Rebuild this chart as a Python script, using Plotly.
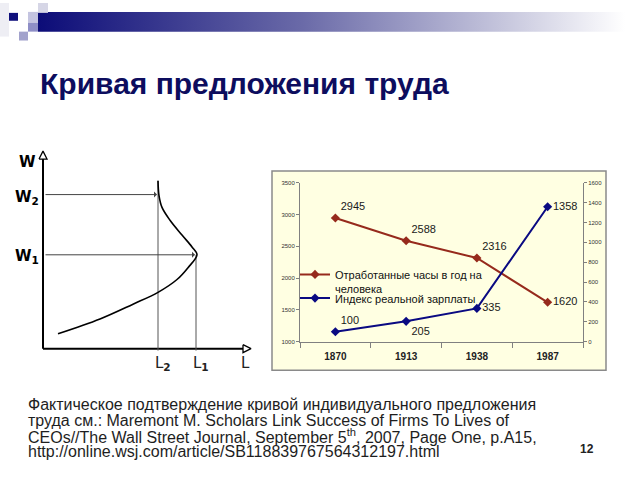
import plotly.graph_objects as go

# ---------------- data ----------------
years = ["1870", "1913", "1938", "1987"]
hours = [2945, 2588, 2316, 1620]          # left axis
wage_index = [100, 205, 335, 1358]        # right axis
hours_name = "Отработанные часы в год на<br>человека"
wage_name = "Индекс реальной зарплаты"
hours_pos = ["top right", "top right", "top right", "middle right"]
wage_pos = ["top right", "bottom right", "middle right", "middle right"]

# schematic backward-bending labour-supply curve (drawing coordinates, px)
curve_L = [58, 100, 133, 158, 177, 188, 197, 192, 182, 170, 162, 159, 158]
curve_W = [335, 320, 305, 293, 280, 268, 255, 247, 235, 220, 207, 195, 180]

title_text = "Кривая предложения труда"
foot_lines = [
    "Фактическое подтверждение кривой индивидуального предложения",
    "труда см.: Maremont M. Scholars Link Success of Firms To Lives of",
    "CEOs//The Wall Street Journal, September 5<sup>th</sup>, 2007, Page One, p.A15,",
    "http://online.wsj.com/article/SB118839767564312197.html",
]
page_no = "12"

W, H = 640, 480
def X(px): return px / W
def Y(py): return 1 - py / H

RED = "#962a1c"
BLUE = "#0a0a82"
FONT = "Liberation Sans, Arial, sans-serif"

fig = go.Figure()

# ---------------- main chart ----------------
fig.add_trace(go.Scatter(
    x=years, y=hours, name=hours_name, mode="lines+markers+text",
    text=[str(v) for v in hours], textposition=hours_pos,
    textfont=dict(family=FONT, size=11, color="#1a1a1a"),
    line=dict(color=RED, width=2), marker=dict(symbol="diamond", size=7, color=RED),
    xaxis="x", yaxis="y", legend="legend", cliponaxis=False))
fig.add_trace(go.Scatter(
    x=years, y=wage_index, name=wage_name, mode="lines+markers+text",
    text=[str(v) for v in wage_index], textposition=wage_pos,
    textfont=dict(family=FONT, size=11, color="#1a1a1a"),
    line=dict(color=BLUE, width=2), marker=dict(symbol="diamond", size=7, color=BLUE),
    xaxis="x", yaxis="y2", legend="legend2", cliponaxis=False))

# ---------------- schematic diagram (pixel drawing axes) ----------------
def dline(xs, ys, color="black", width=1.5, fill=None, fillcolor=None, shape="linear"):
    fig.add_trace(go.Scatter(x=xs, y=ys, mode="lines", xaxis="x3", yaxis="y3",
                             line=dict(color=color, width=width, shape=shape),
                             fill=fill, fillcolor=fillcolor, showlegend=False,
                             hoverinfo="skip"))

# header gradient bar
fig.add_trace(go.Scatter(
    x=[38, 640, 640, 38, 38], y=[9, 9, 29, 29, 9], mode="lines", fill="toself",
    line=dict(width=0), xaxis="x3", yaxis="y3", showlegend=False, hoverinfo="skip",
    fillgradient=dict(type="horizontal", start=38, stop=625,
                      colorscale=[[0, "#0c0c78"], [0.45, "#6a6aa8"], [0.8, "#c8c8de"], [1, "#ffffff"]])))

dline([43, 43], [350, 157], width=2)                 # W axis
dline([43, 243], [350, 350], width=2)                # L axis
dline([39, 47, 43, 39], [158, 158, 150, 158], width=1.3, fill="toself", fillcolor="white")
dline([243, 243, 251, 243], [346, 354, 350, 346], width=1.3, fill="toself", fillcolor="white")
dline([158, 158], [180, 352], color="#555555", width=1)   # L2 guide
dline([196, 196], [255, 352], color="#555555", width=1)   # L1 guide
dline(curve_L, curve_W, width=1.6, shape="spline")

fig.update_layout(
    width=W, height=H, margin=dict(l=0, r=0, t=0, b=0),
    paper_bgcolor="white", plot_bgcolor="rgba(0,0,0,0)",
    font=dict(family=FONT, color="#222"),
    xaxis=dict(domain=[X(300), X(583)], type="category", categoryorder="array",
               categoryarray=years, range=[-0.5, 3.5], showline=True,
               linecolor="#808080", linewidth=1, ticks="outside", tickson="boundaries",
               ticklen=5, tickcolor="#808080", showgrid=False, zeroline=False,
               tickvals=years, ticktext=["<b>%s</b>" % y for y in years],
               ticklabelstandoff=5,
               tickfont=dict(family=FONT, size=10, color="#222"), anchor="y"),
    yaxis=dict(domain=[Y(343), Y(182)], range=[1000, 3500], dtick=500,
               showline=True, linecolor="#808080", ticks="outside", ticklen=3,
               tickcolor="#808080", showgrid=False, zeroline=False,
               tickfont=dict(family=FONT, size=6, color="#333"), anchor="x"),
    yaxis2=dict(overlaying="y", side="right", range=[0, 1600], dtick=200,
                showline=True, linecolor="#808080", ticks="outside", ticklen=3,
                tickcolor="#808080", showgrid=False, zeroline=False,
                tickfont=dict(family=FONT, size=6, color="#333"), anchor="x"),
    xaxis3=dict(domain=[0, 1], range=[0, W], visible=False, anchor="y3", fixedrange=True),
    yaxis3=dict(domain=[0, 1], range=[H, 0], visible=False, anchor="x3", fixedrange=True),
    legend=dict(x=X(295), y=Y(261), xanchor="left", yanchor="top", valign="top",
                bgcolor="rgba(0,0,0,0)", font=dict(family=FONT, size=11, color="#111"),
                itemwidth=30, tracegroupgap=0),
    legend2=dict(x=X(295), y=Y(285), xanchor="left", yanchor="top", valign="top",
                 bgcolor="rgba(0,0,0,0)", font=dict(family=FONT, size=11, color="#111"),
                 itemwidth=30, tracegroupgap=0),
    showlegend=True,
)

# ---------------- decorations ----------------
shapes = [
    dict(type="rect", xref="paper", yref="paper", x0=X(272), x1=X(606), y0=Y(372), y1=Y(170),
         fillcolor="#ffffe2", line=dict(color="#8a8a8a", width=1.5), layer="below"),
    dict(type="rect", xref="paper", yref="paper", x0=X(0), x1=X(9), y0=Y(34), y1=Y(0),
         fillcolor="#eeeef4", line=dict(width=0), layer="below"),
    dict(type="rect", xref="paper", yref="paper", x0=X(9), x1=X(18), y0=Y(18), y1=Y(10),
         fillcolor="#10107c", line=dict(width=0)),
    dict(type="rect", xref="paper", yref="paper", x0=X(38), x1=X(48), y0=Y(10), y1=Y(0),
         fillcolor="#d6d6e6", line=dict(width=0)),
    dict(type="rect", xref="paper", yref="paper", x0=X(28), x1=X(38), y0=Y(20), y1=Y(9),
         fillcolor="#c4c4e0", line=dict(width=0)),
    dict(type="rect", xref="paper", yref="paper", x0=X(28), x1=X(38), y0=Y(29), y1=Y(20),
         fillcolor="#8e8ec6", line=dict(width=0)),
    dict(type="rect", xref="paper", yref="paper", x0=X(19), x1=X(28), y0=Y(38), y1=Y(29),
         fillcolor="#a2a2cc", line=dict(width=0)),
]
fig.update_layout(shapes=shapes)

ann = []
ann.append(dict(text="<b>%s</b>" % title_text, x=X(38), y=Y(82), xref="paper", yref="paper",
                xanchor="left", yanchor="middle", showarrow=False,
                font=dict(family=FONT, size=30, color="#0d0d5e")))
for i, line in enumerate(foot_lines):
    ann.append(dict(text=line, x=X(26), y=Y(407 + 15.7 * i), xref="paper", yref="paper",
                    xanchor="left", yanchor="middle", showarrow=False,
                    font=dict(family=FONT, size=16, color="#1e1e1e")))
ann.append(dict(text="<b>%s</b>" % page_no, x=X(596), y=Y(461), xref="paper", yref="paper",
                showarrow=False, font=dict(family=FONT, size=12, color="#222")))

DJ = "DejaVu Sans, Verdana, sans-serif"
for txt, px, py in [("<b>W</b>", 27, 161), ("<b>W<sub>2</sub></b>", 27, 197), ("<b>W<sub>1</sub></b>", 27, 257)]:
    ann.append(dict(text=txt, x=px, y=py, xref="x3", yref="y3", showarrow=False,
                    font=dict(family=DJ, size=15, color="black")))
for txt, px, py in [("L<sub><b>2</b></sub>", 163, 365), ("L<sub><b>1</b></sub>", 201, 365), ("L", 245, 365)]:
    ann.append(dict(text=txt, x=px, y=py, xref="x3", yref="y3", showarrow=False,
                    font=dict(family=DJ, size=15, color="#222")))
for tip, py in [(157, 194), (195, 255)]:
    ann.append(dict(text="", x=tip, y=py, ax=44, ay=py, xref="x3", yref="y3",
                    axref="x3", ayref="y3", showarrow=True, arrowhead=1, arrowsize=1,
                    arrowwidth=1, arrowcolor="#444"))
fig.update_layout(annotations=ann)

fig.write_html("out.html")
